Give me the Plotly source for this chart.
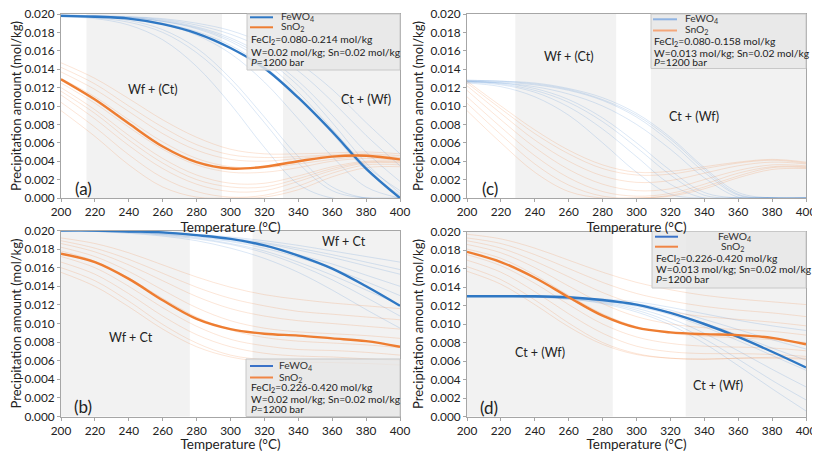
import plotly.graph_objects as go

# ---------------- data ----------------
T = [200, 220, 240, 260, 280, 300, 320, 340, 360, 380, 400]

# panel (a)
A_FEWO4_MEAN = [0.0198, 0.0197, 0.0195, 0.0189, 0.0179, 0.0163, 0.0141, 0.0109, 0.0072, 0.0032, 0.0000]
A_SNO2_MEAN = [0.0129, 0.0107, 0.0081, 0.0056, 0.0039, 0.0032, 0.0034, 0.0040, 0.0045, 0.0046, 0.0042]
A_FEWO4_RUNS = [
    [0.0198, 0.0197, 0.0193, 0.0183, 0.0163, 0.0130, 0.0088, 0.0045, 0.0012, 0.0000, 0.0000],
    [0.0197, 0.0195, 0.0188, 0.0172, 0.0143, 0.0102, 0.0055, 0.0015, 0.0000, 0.0000, 0.0000],
    [0.0198, 0.0197, 0.0195, 0.0189, 0.0177, 0.0157, 0.0126, 0.0086, 0.0045, 0.0012, 0.0000],
    [0.0198, 0.0198, 0.0196, 0.0192, 0.0185, 0.0172, 0.0152, 0.0122, 0.0082, 0.0038, 0.0005],
    [0.0199, 0.0198, 0.0197, 0.0194, 0.0188, 0.0178, 0.0162, 0.0138, 0.0105, 0.0068, 0.0035],
    [0.0199, 0.0198, 0.0197, 0.0195, 0.0190, 0.0182, 0.0168, 0.0147, 0.0118, 0.0082, 0.0048],
    [0.0198, 0.0197, 0.0196, 0.0193, 0.0186, 0.0174, 0.0155, 0.0127, 0.0090, 0.0050, 0.0018],
    [0.0198, 0.0196, 0.0191, 0.0180, 0.0158, 0.0125, 0.0082, 0.0038, 0.0008, 0.0000, 0.0000],
    [0.0198, 0.0197, 0.0195, 0.0190, 0.0181, 0.0166, 0.0143, 0.0110, 0.0070, 0.0030, 0.0003],
    [0.0199, 0.0198, 0.0196, 0.0192, 0.0184, 0.0170, 0.0148, 0.0115, 0.0075, 0.0035, 0.0008],
]
A_SNO2_RUNS = [
    [0.0147, 0.0130, 0.0108, 0.0085, 0.0066, 0.0053, 0.0048, 0.0048, 0.0049, 0.0050, 0.0048],
    [0.0142, 0.0124, 0.0100, 0.0077, 0.0058, 0.0047, 0.0044, 0.0045, 0.0047, 0.0048, 0.0046],
    [0.0137, 0.0118, 0.0094, 0.0070, 0.0052, 0.0042, 0.0040, 0.0043, 0.0046, 0.0047, 0.0044],
    [0.0130, 0.0110, 0.0085, 0.0061, 0.0043, 0.0034, 0.0033, 0.0037, 0.0042, 0.0045, 0.0043],
    [0.0125, 0.0103, 0.0077, 0.0053, 0.0036, 0.0028, 0.0028, 0.0033, 0.0040, 0.0043, 0.0041],
    [0.0120, 0.0096, 0.0068, 0.0043, 0.0025, 0.0016, 0.0016, 0.0024, 0.0034, 0.0040, 0.0040],
    [0.0116, 0.0092, 0.0063, 0.0038, 0.0020, 0.0012, 0.0012, 0.0021, 0.0032, 0.0039, 0.0039],
    [0.0112, 0.0086, 0.0057, 0.0032, 0.0015, 0.0007, 0.0008, 0.0018, 0.0030, 0.0038, 0.0038],
    [0.0104, 0.0077, 0.0047, 0.0022, 0.0007, 0.0001, 0.0003, 0.0013, 0.0027, 0.0036, 0.0036],
    [0.0095, 0.0067, 0.0036, 0.0012, 0.0001, 0.0000, 0.0001, 0.0009, 0.0023, 0.0033, 0.0034],
]

# panel (c)  (no mean curve drawn)
C_FEWO4_RUNS = [
    [0.0128, 0.0127, 0.0125, 0.0119, 0.0109, 0.0092, 0.0066, 0.0033, 0.0006, 0.0000, 0.0000],
    [0.0127, 0.0126, 0.0123, 0.0117, 0.0106, 0.0088, 0.0061, 0.0028, 0.0003, 0.0000, 0.0000],
    [0.0128, 0.0127, 0.0124, 0.0118, 0.0107, 0.0090, 0.0064, 0.0031, 0.0004, 0.0000, 0.0000],
    [0.0126, 0.0125, 0.0121, 0.0113, 0.0100, 0.0080, 0.0053, 0.0022, 0.0001, 0.0000, 0.0000],
    [0.0127, 0.0125, 0.0119, 0.0107, 0.0087, 0.0060, 0.0030, 0.0006, 0.0000, 0.0000, 0.0000],
    [0.0126, 0.0123, 0.0115, 0.0099, 0.0075, 0.0045, 0.0015, 0.0000, 0.0000, 0.0000, 0.0000],
    [0.0125, 0.0121, 0.0110, 0.0090, 0.0060, 0.0028, 0.0004, 0.0000, 0.0000, 0.0000, 0.0000],
    [0.0127, 0.0124, 0.0117, 0.0104, 0.0083, 0.0055, 0.0025, 0.0003, 0.0000, 0.0000, 0.0000],
]
C_SNO2_RUNS = [
    [0.0127, 0.0100, 0.0074, 0.0052, 0.0036, 0.0028, 0.0029, 0.0034, 0.0039, 0.0042, 0.0039],
    [0.0125, 0.0097, 0.0070, 0.0048, 0.0032, 0.0025, 0.0026, 0.0032, 0.0038, 0.0041, 0.0038],
    [0.0122, 0.0092, 0.0063, 0.0040, 0.0024, 0.0017, 0.0019, 0.0027, 0.0035, 0.0039, 0.0037],
    [0.0117, 0.0085, 0.0055, 0.0031, 0.0015, 0.0008, 0.0010, 0.0020, 0.0030, 0.0036, 0.0035],
    [0.0110, 0.0077, 0.0046, 0.0022, 0.0007, 0.0002, 0.0005, 0.0015, 0.0027, 0.0034, 0.0034],
    [0.0103, 0.0069, 0.0037, 0.0014, 0.0002, 0.0000, 0.0003, 0.0012, 0.0024, 0.0033, 0.0033],
    [0.0095, 0.0060, 0.0028, 0.0007, 0.0000, 0.0000, 0.0002, 0.0010, 0.0022, 0.0031, 0.0032],
]

# panel (b)
B_FEWO4_MEAN = [0.0200, 0.0200, 0.0199, 0.0198, 0.0195, 0.0191, 0.0184, 0.0173, 0.0159, 0.0140, 0.0119]
B_SNO2_MEAN = [0.0175, 0.0166, 0.0148, 0.0125, 0.0105, 0.0094, 0.0089, 0.0087, 0.0084, 0.0081, 0.0075]
B_FEWO4_RUNS = [
    [0.0200, 0.0200, 0.0199, 0.0198, 0.0196, 0.0193, 0.0189, 0.0184, 0.0178, 0.0172, 0.0166],
    [0.0200, 0.0200, 0.0199, 0.0197, 0.0195, 0.0191, 0.0186, 0.0179, 0.0171, 0.0162, 0.0153],
    [0.0200, 0.0199, 0.0198, 0.0196, 0.0193, 0.0188, 0.0181, 0.0171, 0.0159, 0.0145, 0.0130],
    [0.0200, 0.0199, 0.0198, 0.0195, 0.0191, 0.0185, 0.0176, 0.0163, 0.0147, 0.0128, 0.0108],
    [0.0200, 0.0199, 0.0197, 0.0194, 0.0189, 0.0181, 0.0170, 0.0155, 0.0136, 0.0115, 0.0095],
    [0.0200, 0.0200, 0.0199, 0.0197, 0.0194, 0.0189, 0.0183, 0.0174, 0.0164, 0.0152, 0.0140],
    [0.0200, 0.0200, 0.0199, 0.0198, 0.0195, 0.0192, 0.0187, 0.0181, 0.0174, 0.0166, 0.0158],
    [0.0200, 0.0199, 0.0198, 0.0196, 0.0192, 0.0186, 0.0178, 0.0166, 0.0152, 0.0136, 0.0120],
]
B_SNO2_RUNS = [
    [0.0192, 0.0186, 0.0176, 0.0163, 0.0150, 0.0139, 0.0131, 0.0126, 0.0122, 0.0119, 0.0116],
    [0.0189, 0.0181, 0.0169, 0.0154, 0.0139, 0.0127, 0.0119, 0.0113, 0.0110, 0.0107, 0.0104],
    [0.0186, 0.0177, 0.0163, 0.0146, 0.0129, 0.0116, 0.0108, 0.0103, 0.0100, 0.0097, 0.0094],
    [0.0182, 0.0172, 0.0156, 0.0136, 0.0117, 0.0103, 0.0095, 0.0091, 0.0089, 0.0087, 0.0084],
    [0.0178, 0.0167, 0.0149, 0.0127, 0.0107, 0.0093, 0.0085, 0.0081, 0.0079, 0.0077, 0.0074],
    [0.0172, 0.0160, 0.0140, 0.0117, 0.0097, 0.0083, 0.0076, 0.0072, 0.0071, 0.0069, 0.0066],
    [0.0166, 0.0153, 0.0132, 0.0108, 0.0088, 0.0075, 0.0068, 0.0065, 0.0064, 0.0062, 0.0060],
    [0.0160, 0.0146, 0.0124, 0.0099, 0.0079, 0.0066, 0.0061, 0.0059, 0.0058, 0.0057, 0.0056],
    [0.0155, 0.0140, 0.0118, 0.0094, 0.0075, 0.0064, 0.0059, 0.0058, 0.0058, 0.0057, 0.0055],
]

# panel (d)
D_FEWO4_MEAN = [0.0130, 0.0130, 0.0130, 0.0129, 0.0126, 0.0121, 0.0112, 0.0100, 0.0086, 0.0070, 0.0053]
D_SNO2_MEAN = [0.0178, 0.0167, 0.0150, 0.0129, 0.0109, 0.0096, 0.0091, 0.0089, 0.0088, 0.0085, 0.0078]
D_FEWO4_RUNS = [
    [0.0130, 0.0130, 0.0130, 0.0129, 0.0127, 0.0124, 0.0118, 0.0111, 0.0104, 0.0098, 0.0093],
    [0.0130, 0.0130, 0.0130, 0.0129, 0.0126, 0.0122, 0.0115, 0.0105, 0.0094, 0.0083, 0.0073],
    [0.0130, 0.0130, 0.0129, 0.0128, 0.0125, 0.0119, 0.0110, 0.0097, 0.0082, 0.0066, 0.0050],
    [0.0130, 0.0130, 0.0129, 0.0128, 0.0124, 0.0117, 0.0106, 0.0090, 0.0071, 0.0051, 0.0032],
    [0.0130, 0.0130, 0.0129, 0.0127, 0.0123, 0.0115, 0.0102, 0.0084, 0.0062, 0.0039, 0.0018],
    [0.0130, 0.0130, 0.0129, 0.0127, 0.0122, 0.0113, 0.0099, 0.0079, 0.0055, 0.0030, 0.0006],
    [0.0130, 0.0130, 0.0130, 0.0128, 0.0125, 0.0120, 0.0112, 0.0101, 0.0088, 0.0074, 0.0061],
]
D_SNO2_RUNS = [
    [0.0197, 0.0192, 0.0182, 0.0169, 0.0156, 0.0145, 0.0137, 0.0131, 0.0127, 0.0124, 0.0121],
    [0.0193, 0.0187, 0.0175, 0.0160, 0.0145, 0.0133, 0.0125, 0.0119, 0.0115, 0.0112, 0.0108],
    [0.0190, 0.0182, 0.0168, 0.0151, 0.0134, 0.0121, 0.0113, 0.0108, 0.0105, 0.0102, 0.0098],
    [0.0186, 0.0177, 0.0161, 0.0141, 0.0122, 0.0108, 0.0100, 0.0096, 0.0094, 0.0092, 0.0088],
    [0.0181, 0.0171, 0.0153, 0.0131, 0.0111, 0.0097, 0.0090, 0.0087, 0.0085, 0.0083, 0.0080],
    [0.0175, 0.0163, 0.0144, 0.0121, 0.0100, 0.0086, 0.0079, 0.0076, 0.0075, 0.0074, 0.0071],
    [0.0169, 0.0156, 0.0135, 0.0111, 0.0090, 0.0076, 0.0070, 0.0068, 0.0068, 0.0067, 0.0065],
    [0.0162, 0.0148, 0.0126, 0.0101, 0.0080, 0.0068, 0.0063, 0.0062, 0.0063, 0.0063, 0.0062],
    [0.0157, 0.0143, 0.0121, 0.0097, 0.0078, 0.0067, 0.0063, 0.0062, 0.0063, 0.0064, 0.0063],
]

# shaded temperature windows (degC)
A_SHADE = [(215, 295), (331, 400)]
C_SHADE = [(228.5, 288), (308.5, 400)]
B_SHADE = [(200, 276), (313, 400)]
D_SHADE = [(200, 286), (329, 400)]

# region labels: (T, value, text)
A_LABELS = [(254, 0.0118, "Wf + (Ct)"), (380, 0.0107, "Ct + (Wf)")]
C_LABELS = [(260, 0.0154, "Wf + (Ct)"), (334, 0.0089, "Ct + (Wf)")]
B_LABELS = [(367, 0.0188, "Wf + Ct"), (241, 0.0085, "Wf + Ct")]
D_LABELS = [(243, 0.0069, "Ct + (Wf)"), (348, 0.0034, "Ct + (Wf)")]

A_INFO = ["FeCl<sub>2</sub>=0.080-0.214 mol/kg", "W=0.02 mol/kg; Sn=0.02 mol/kg", "<i>P</i>=1200 bar"]
C_INFO = ["FeCl<sub>2</sub>=0.080-0.158 mol/kg", "W=0.013 mol/kg; Sn=0.02 mol/kg", "<i>P</i>=1200 bar"]
B_INFO = ["FeCl<sub>2</sub>=0.226-0.420 mol/kg", "W=0.02 mol/kg; Sn=0.02 mol/kg", "<i>P</i>=1200 bar"]
D_INFO = ["FeCl<sub>2</sub>=0.226-0.420 mol/kg", "W=0.013 mol/kg; Sn=0.02 mol/kg", "<i>P</i>=1200 bar"]

# ---------------- styling ----------------
OFF = 8                      # page body margin of the browser
W, H = 820 - OFF, 452 - OFF  # figure size so that it fits the window
FONT = "Lato, 'Open Sans', sans-serif"
BLUE = "#2f78c4"
ORANGE = "#ee7d31"
BLUE_THIN = "rgba(60,130,205,0.18)"
ORANGE_THIN = "rgba(240,130,60,0.20)"
SHADE = "#f2f2f2"
LEG_SIZE = 10.3

def px(x):
    return (x - OFF) / W

def py(y):
    return 1 - (y - OFF) / H

panels = [
    dict(name="a", ax="", dom_x=(61, 400), dom_y=(14, 198), blue_mean=A_FEWO4_MEAN, orange_mean=A_SNO2_MEAN,
         blue_runs=A_FEWO4_RUNS, orange_runs=A_SNO2_RUNS, shade=A_SHADE, labels=A_LABELS, info=A_INFO,
         box=(247, 14, 400, 70), rows=(17.3, 27.3, 40, 51.5, 61.7), line_x=(250, 273), name_x=(279, 279),
         text_x=249, leg_blue=BLUE, leg_orange=ORANGE, tag_xy=(73, 189)),
    dict(name="c", ax="2", dom_x=(467, 806), dom_y=(14, 198), blue_mean=None, orange_mean=None,
         blue_runs=C_FEWO4_RUNS, orange_runs=C_SNO2_RUNS, shade=C_SHADE, labels=C_LABELS, info=C_INFO,
         box=(651, 14, 806, 68.5), rows=(19.3, 30.5, 42, 52.5, 62.3), line_x=(653, 677), name_x=(683, 683),
         text_x=652, leg_blue="#8fb3e3", leg_orange="#f4a77a", tag_xy=(480, 188)),
    dict(name="b", ax="3", dom_x=(61, 400), dom_y=(230.5, 416.5), blue_mean=B_FEWO4_MEAN, orange_mean=B_SNO2_MEAN,
         blue_runs=B_FEWO4_RUNS, orange_runs=B_SNO2_RUNS, shade=B_SHADE, labels=B_LABELS, info=B_INFO,
         box=(246, 359, 400, 416.5), rows=(366, 377.5, 388.3, 398.7, 408.7), line_x=(250, 273), name_x=(277, 277),
         text_x=249, leg_blue="#3a72c8", leg_orange="#f08545", tag_xy=(72, 406)),
    dict(name="d", ax="4", dom_x=(467, 806), dom_y=(231.5, 416.5), blue_mean=D_FEWO4_MEAN, orange_mean=D_SNO2_MEAN,
         blue_runs=D_FEWO4_RUNS, orange_runs=D_SNO2_RUNS, shade=D_SHADE, labels=D_LABELS, info=D_INFO,
         box=(652, 231.5, 806, 288), rows=(236.7, 246.7, 258.7, 269.3, 279.3), line_x=(655, 678), name_x=(716, 719),
         text_x=654, leg_blue="#3a72c8", leg_orange="#f08545", tag_xy=(478, 407)),
]

fig = go.Figure()
shapes = []
annotations = []
layout_axes = {}

for p in panels:
    xa = "x" + p["ax"]
    ya = "y" + p["ax"]
    # thin ensemble curves
    for run in p["blue_runs"]:
        fig.add_trace(go.Scatter(x=T, y=run, mode="lines", xaxis=xa, yaxis=ya, showlegend=False,
                                 hoverinfo="skip", line=dict(color=BLUE_THIN, width=1, shape="spline", smoothing=1.0)))
    for run in p["orange_runs"]:
        fig.add_trace(go.Scatter(x=T, y=run, mode="lines", xaxis=xa, yaxis=ya, showlegend=False,
                                 hoverinfo="skip", line=dict(color=ORANGE_THIN, width=1, shape="spline", smoothing=1.0)))
    if p["blue_mean"] is not None:
        fig.add_trace(go.Scatter(x=T, y=p["blue_mean"], mode="lines", xaxis=xa, yaxis=ya, showlegend=False,
                                 line=dict(color=BLUE, width=2.4, shape="spline", smoothing=1.0)))
    if p["orange_mean"] is not None:
        fig.add_trace(go.Scatter(x=T, y=p["orange_mean"], mode="lines", xaxis=xa, yaxis=ya, showlegend=False,
                                 line=dict(color=ORANGE, width=2.4, shape="spline", smoothing=1.0)))

    # shaded windows
    for (t0, t1) in p["shade"]:
        shapes.append(dict(type="rect", xref=xa, yref=ya + " domain", x0=t0, x1=t1, y0=0, y1=1,
                           fillcolor=SHADE, line=dict(width=0), layer="below"))

    # region labels
    for (tx, ty, txt) in p["labels"]:
        annotations.append(dict(x=tx, y=ty, xref=xa, yref=ya, text=txt, showarrow=False,
                                font=dict(family=FONT, size=12.5, color="#222")))
    # panel tag
    annotations.append(dict(x=px(p["tag_xy"][0]), y=py(p["tag_xy"][1]), xref="paper", yref="paper",
                            text="(" + p["name"] + ")", showarrow=False, xanchor="left", yanchor="middle",
                            font=dict(family=FONT, size=17, color="#222")))

    # legend box
    bx0, by0, bx1, by1 = p["box"]
    shapes.append(dict(type="rect", xref="paper", yref="paper", x0=px(bx0), x1=px(bx1), y0=py(by1), y1=py(by0),
                       fillcolor="rgba(232,232,232,0.85)", line=dict(color="#c8c8c8", width=1), layer="above"))
    r = p["rows"]
    lx0, lx1 = p["line_x"]
    shapes.append(dict(type="line", xref="paper", yref="paper", x0=px(lx0), x1=px(lx1), y0=py(r[0]), y1=py(r[0]),
                       line=dict(color=p["leg_blue"], width=2), layer="above"))
    shapes.append(dict(type="line", xref="paper", yref="paper", x0=px(lx0), x1=px(lx1), y0=py(r[1]), y1=py(r[1]),
                       line=dict(color=p["leg_orange"], width=2), layer="above"))
    annotations.append(dict(x=px(p["name_x"][0]), y=py(r[0]), xref="paper", yref="paper", text="FeWO<sub>4</sub>",
                            showarrow=False, xanchor="left", yanchor="middle",
                            font=dict(family=FONT, size=LEG_SIZE, color="#333")))
    annotations.append(dict(x=px(p["name_x"][1]), y=py(r[1]), xref="paper", yref="paper", text="SnO<sub>2</sub>",
                            showarrow=False, xanchor="left", yanchor="middle",
                            font=dict(family=FONT, size=LEG_SIZE, color="#333")))
    for i, line in enumerate(p["info"]):
        annotations.append(dict(x=px(p["text_x"]), y=py(r[2 + i]), xref="paper", yref="paper", text=line,
                                showarrow=False, xanchor="left", yanchor="middle",
                                font=dict(family=FONT, size=LEG_SIZE, color="#222")))

    axis_common = dict(showline=True, linecolor="#a6a6a6", linewidth=1, mirror=True, showgrid=False,
                       zeroline=False, ticks="outside", ticklen=3, tickcolor="#a6a6a6", automargin=False,
                       ticklabeloverflow="allow",
                       tickfont=dict(family=FONT, size=11.8, color="#222"))
    layout_axes["xaxis" + p["ax"]] = dict(
        domain=[px(p["dom_x"][0]), px(p["dom_x"][1])], anchor=ya, range=[200, 400], tick0=200, dtick=20,
        title=dict(text="Temperature (°C)", font=dict(family=FONT, size=13.5, color="#222"), standoff=0),
        **axis_common)
    layout_axes["yaxis" + p["ax"]] = dict(
        domain=[py(p["dom_y"][1]), py(p["dom_y"][0])], anchor=xa, range=[0, 0.020], tick0=0, dtick=0.002,
        tickformat=".3f",
        title=dict(text="Precipitation amount (mol/kg)", font=dict(family=FONT, size=13, color="#222"), standoff=3),
        **axis_common)

fig.update_layout(width=W, height=H, margin=dict(l=0, r=0, t=0, b=0, autoexpand=False), paper_bgcolor="white",
                  plot_bgcolor="white", showlegend=False, shapes=shapes, annotations=annotations,
                  font=dict(family=FONT), **layout_axes)

fig.write_html("out.html")
